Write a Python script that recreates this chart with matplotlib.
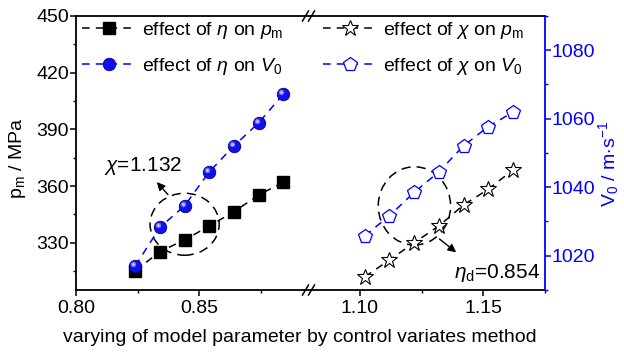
import matplotlib
matplotlib.use('Agg')
import matplotlib.pyplot as plt
from matplotlib.patches import Ellipse
from matplotlib.ticker import MultipleLocator, FormatStrFormatter
from matplotlib.lines import Line2D
import matplotlib.transforms as mtransforms

plt.rcParams['font.family'] = ['Liberation Sans', 'DejaVu Sans']
plt.rcParams['mathtext.fontset'] = 'custom'
plt.rcParams['mathtext.rm'] = 'Liberation Sans'
plt.rcParams['mathtext.it'] = 'Liberation Sans:italic'
plt.rcParams['font.size'] = 14

# effect of eta (left segment)
eta = [0.824, 0.834, 0.844, 0.854, 0.864, 0.874, 0.884]
eta_pm = [315.2, 325.3, 331.5, 338.9, 346.4, 355.3, 362.0]
eta_v0 = [1017.0, 1028.3, 1034.6, 1044.5, 1052.1, 1058.8, 1067.2]

# effect of chi (right segment)
chi = [1.102, 1.112, 1.122, 1.132, 1.142, 1.152, 1.162]
chi_pm = [312.0, 320.9, 330.0, 338.9, 350.0, 358.3, 368.5]
chi_v0 = [1025.8, 1031.7, 1038.5, 1044.5, 1052.1, 1057.7, 1061.9]

blue = '#0000ff'
dash = (0, (5, 4))

fig = plt.figure(figsize=(6.24, 3.58), dpi=100)
W, H = 624, 358
left, right, bottom, top = 76 / W, 545 / W, 1 - 290 / H, 1 - 16 / H
half = (right - left) / 2
ax1 = fig.add_axes([left, bottom, half, top - bottom])
ax2 = fig.add_axes([left + half, bottom, half, top - bottom], sharey=ax1)
ax1b = ax1.twinx()
ax2b = ax2.twinx()

ax1.set_xlim(0.80, 0.895)
ax2.set_xlim(1.08, 1.175)
ax1.set_ylim(305, 450)
ax1b.set_ylim(1010, 1090)
ax2b.set_ylim(1010, 1090)

# data
h1, = ax1.plot(eta, eta_pm, color='k', ls=dash, lw=1.1, marker='s', ms=8,
               mfc='k', mec='k', label=r'effect of $\eta$ on $p_{\rm m}$')
h2, = ax1b.plot(eta, eta_v0, color=blue, ls=dash, lw=1.1, marker='o', ms=9,
                mfc='#1010e8', mec='#00008b', mew=0.6, label=r'effect of $\eta$ on $V_0$')
# highlight on the balls
hl = mtransforms.offset_copy(ax1b.transData, fig=fig, x=-1.5, y=1.5, units='points')
ax1b.plot(eta, eta_v0, ls='none', marker='o', ms=4, mfc='#6f6fff', mec='none', transform=hl)
ax1b.plot(eta, eta_v0, ls='none', marker='o', ms=1.8, mfc='#d8d8ff', mec='none', transform=hl)

h3, = ax2.plot(chi, chi_pm, color='k', ls=dash, lw=1.1, marker='*', ms=12,
               mfc='white', mec='k', mew=0.8, label=r'effect of $\chi$ on $p_{\rm m}$')
h4, = ax2b.plot(chi, chi_v0, color=blue, ls=dash, lw=1.1, marker='p', ms=10,
                mfc='white', mec=blue, mew=0.9, label=r'effect of $\chi$ on $V_0$')

# spines / ticks
ax1.spines['right'].set_visible(False)
ax2.spines['left'].set_visible(False)
ax2.spines['right'].set_visible(False)
for s in ax1b.spines.values():
    s.set_visible(False)
for s in ('left', 'top', 'bottom'):
    ax2b.spines[s].set_visible(False)
ax2b.spines['right'].set_color(blue)
ax2b.spines['right'].set_linewidth(1.3)
for s in ('left', 'top', 'bottom'):
    ax1.spines[s].set_linewidth(1.3)
for s in ('top', 'bottom'):
    ax2.spines[s].set_linewidth(1.3)

ax1.yaxis.set_major_locator(MultipleLocator(30))
ax1.yaxis.set_minor_locator(MultipleLocator(15))
for ax in (ax1, ax2):
    ax.xaxis.set_major_locator(MultipleLocator(0.05))
    ax.xaxis.set_minor_locator(MultipleLocator(0.025))
    ax.xaxis.set_major_formatter(FormatStrFormatter('%.2f'))
    ax.tick_params(axis='x', which='major', direction='out', length=4, width=1.1, pad=3, top=False)
    ax.tick_params(axis='x', which='minor', direction='out', length=2.5, width=1.0, top=False)
ax1.tick_params(axis='y', which='major', direction='out', length=4, width=1.1, pad=1, right=False)
ax1.tick_params(axis='y', which='minor', direction='out', length=2.5, width=1.0, right=False)
ax2.tick_params(axis='y', which='both', left=False, right=False, labelleft=False)
ax1b.tick_params(axis='y', which='both', right=False, labelright=False)
ax2b.yaxis.set_major_locator(MultipleLocator(20))
ax2b.yaxis.set_minor_locator(MultipleLocator(10))
ax2b.tick_params(axis='y', which='major', direction='out', length=4, width=1.1, pad=1,
                 colors=blue, labelcolor=blue)
ax2b.tick_params(axis='y', which='minor', direction='out', length=2.5, width=1.0, colors=blue)

ax1.set_ylabel(r'p$_{\rm m}$ / MPa')
ax1.yaxis.set_label_coords(-0.205, 0.48)
ax2b.set_ylabel(r'V$_0$ / m$\cdot$s$^{-1}$', color=blue)
ax2b.yaxis.set_label_coords(1.22, 0.46)
fig.text(300 / W, 1 - 338 / H, 'varying of model parameter by control variates method',
         ha='center', va='center', fontsize=14)

# break marks
for yy in (16, 290):
    for dx in (-5, 1):
        x0 = 310.5 + dx
        fig.add_artist(Line2D([(x0 - 3) / W, (x0 + 3) / W], [1 - (yy + 5) / H, 1 - (yy - 5) / H],
                              color='k', lw=1.1, transform=fig.transFigure))

# annotations
ax1.add_patch(Ellipse((0.844, 339.8), 0.028, 32.8, fill=False, ls=(0, (6, 4)), lw=1.1, ec='k'))
ax1.annotate('', xy=(0.832, 363.2), xytext=(0.838, 354.4),
             arrowprops=dict(arrowstyle='-|>', color='k', lw=1.0, mutation_scale=12))
ax1.text(0.8272, 368, r'$\chi$=1.132', ha='center', va='baseline', fontsize=15)

ax2.add_patch(Ellipse((1.1221, 349.5), 0.0293, 41.4, fill=False, ls=(0, (6, 4)), lw=1.1, ec='k'))
ax2.annotate('', xy=(1.1399, 324.0), xytext=(1.1314, 332.9),
             arrowprops=dict(arrowstyle='-|>', color='k', lw=1.0, mutation_scale=12))
ax2.text(1.1381, 311.3, r'$\eta_{\rm d}$=0.854', ha='left', va='baseline', fontsize=15)

# legends
ax1b.legend(handles=[h1, h2], loc='upper left', bbox_to_anchor=(82 / W, 1 - 20 / H),
            bbox_transform=fig.transFigure, frameon=False, borderpad=0, borderaxespad=0,
            handlelength=2.8, handletextpad=0.3, labelspacing=0.75, numpoints=1, fontsize=14)
ax2b.legend(handles=[h3, h4], loc='upper left', bbox_to_anchor=(323 / W, 1 - 20 / H),
            bbox_transform=fig.transFigure, frameon=False, borderpad=0, borderaxespad=0,
            handlelength=2.8, handletextpad=0.3, labelspacing=0.75, numpoints=1, fontsize=14)

fig.savefig('out.png', dpi=100)
